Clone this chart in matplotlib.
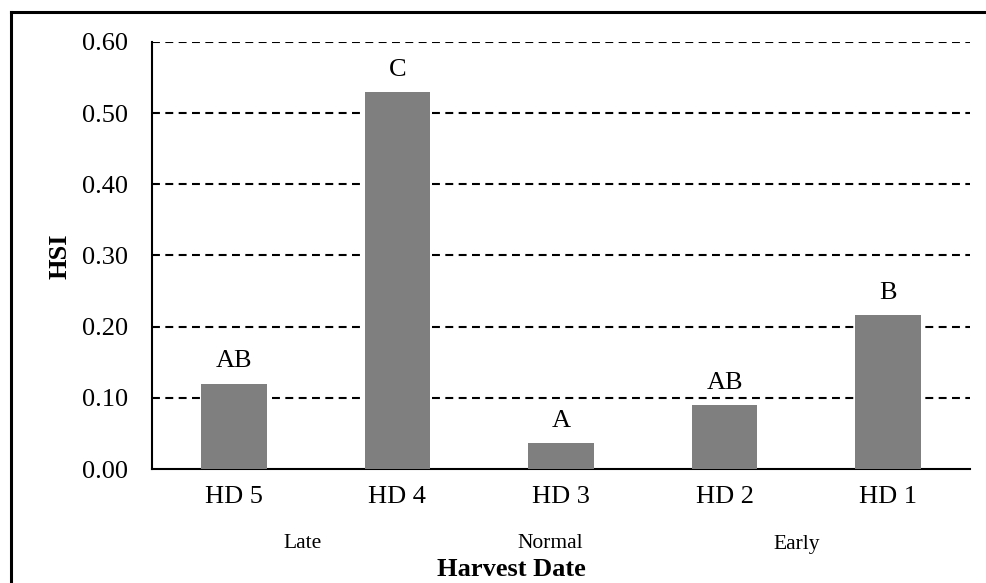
import matplotlib.pyplot as plt
from matplotlib.lines import Line2D

# Данные
dates = ['HD 5', 'HD 4', 'HD 3', 'HD 2', 'HD 1']
hsi = [0.12, 0.53, 0.036, 0.09, 0.216]
letters = ['AB', 'C', 'A', 'AB', 'B']
periods = ['Late', 'Normal', 'Early']
period_x = [303, 550, 797]  # центр подписи, px

plt.rcParams['font.family'] = ['Liberation Serif', 'DejaVu Serif']

fig = plt.figure(figsize=(9.86, 5.83), dpi=100)
W, H = 986, 583
ax = fig.add_axes([152 / W, 1 - 469 / H, (970 - 152) / W, (469 - 42) / H])

x = range(len(dates))
ax.bar(x, hsi, width=0.4, color='#7f7f7f', zorder=3)
for xi, v, lab in zip(x, hsi, letters):
    ax.annotate(lab, (xi, v), xytext=(0, 8), textcoords='offset points',
                ha='center', va='bottom', fontsize=19, annotation_clip=False)

ax.set_xlim(-0.5, len(dates) - 0.5)
ax.set_ylim(0, 0.6)
ax.set_yticks([0, 0.1, 0.2, 0.3, 0.4, 0.5, 0.6])
ax.set_yticklabels([f'{t:.2f}' for t in ax.get_yticks()])
ax.set_xticks(list(x))
ax.set_xticklabels(dates)
ax.tick_params(axis='x', length=0, pad=12, labelsize=19)
ax.tick_params(axis='y', length=0, pad=17, labelsize=19)

for yv in [0.1, 0.2, 0.3, 0.4, 0.5, 0.6]:
    ax.axhline(yv, color='black', lw=1.5, ls=(0, (3.8, 2.6)), zorder=1)

for s in ['top', 'right']:
    ax.spines[s].set_visible(False)
for s in ['left', 'bottom']:
    ax.spines[s].set_linewidth(1.5)

fig.text(60 / W, 1 - 256 / H, 'HSI', rotation=90, ha='center', va='center',
         fontsize=19, fontweight='bold')
fig.text(511 / W, 1 - 569 / H, 'Harvest Date', ha='center', va='center',
         fontsize=19, fontweight='bold')
for p, px in zip(periods, period_x):
    fig.text(px / W, 1 - 544 / H, p, ha='center', va='center', fontsize=15.5)

# рамка рисунка
fig.add_artist(Line2D([11 / W, 1], [1 - 12 / H, 1 - 12 / H], color='black', lw=2.2,
                      transform=fig.transFigure))
fig.add_artist(Line2D([11 / W, 11 / W], [0, 1 - 12 / H], color='black', lw=2.2,
                      transform=fig.transFigure))

fig.savefig('out.png', dpi=100)
